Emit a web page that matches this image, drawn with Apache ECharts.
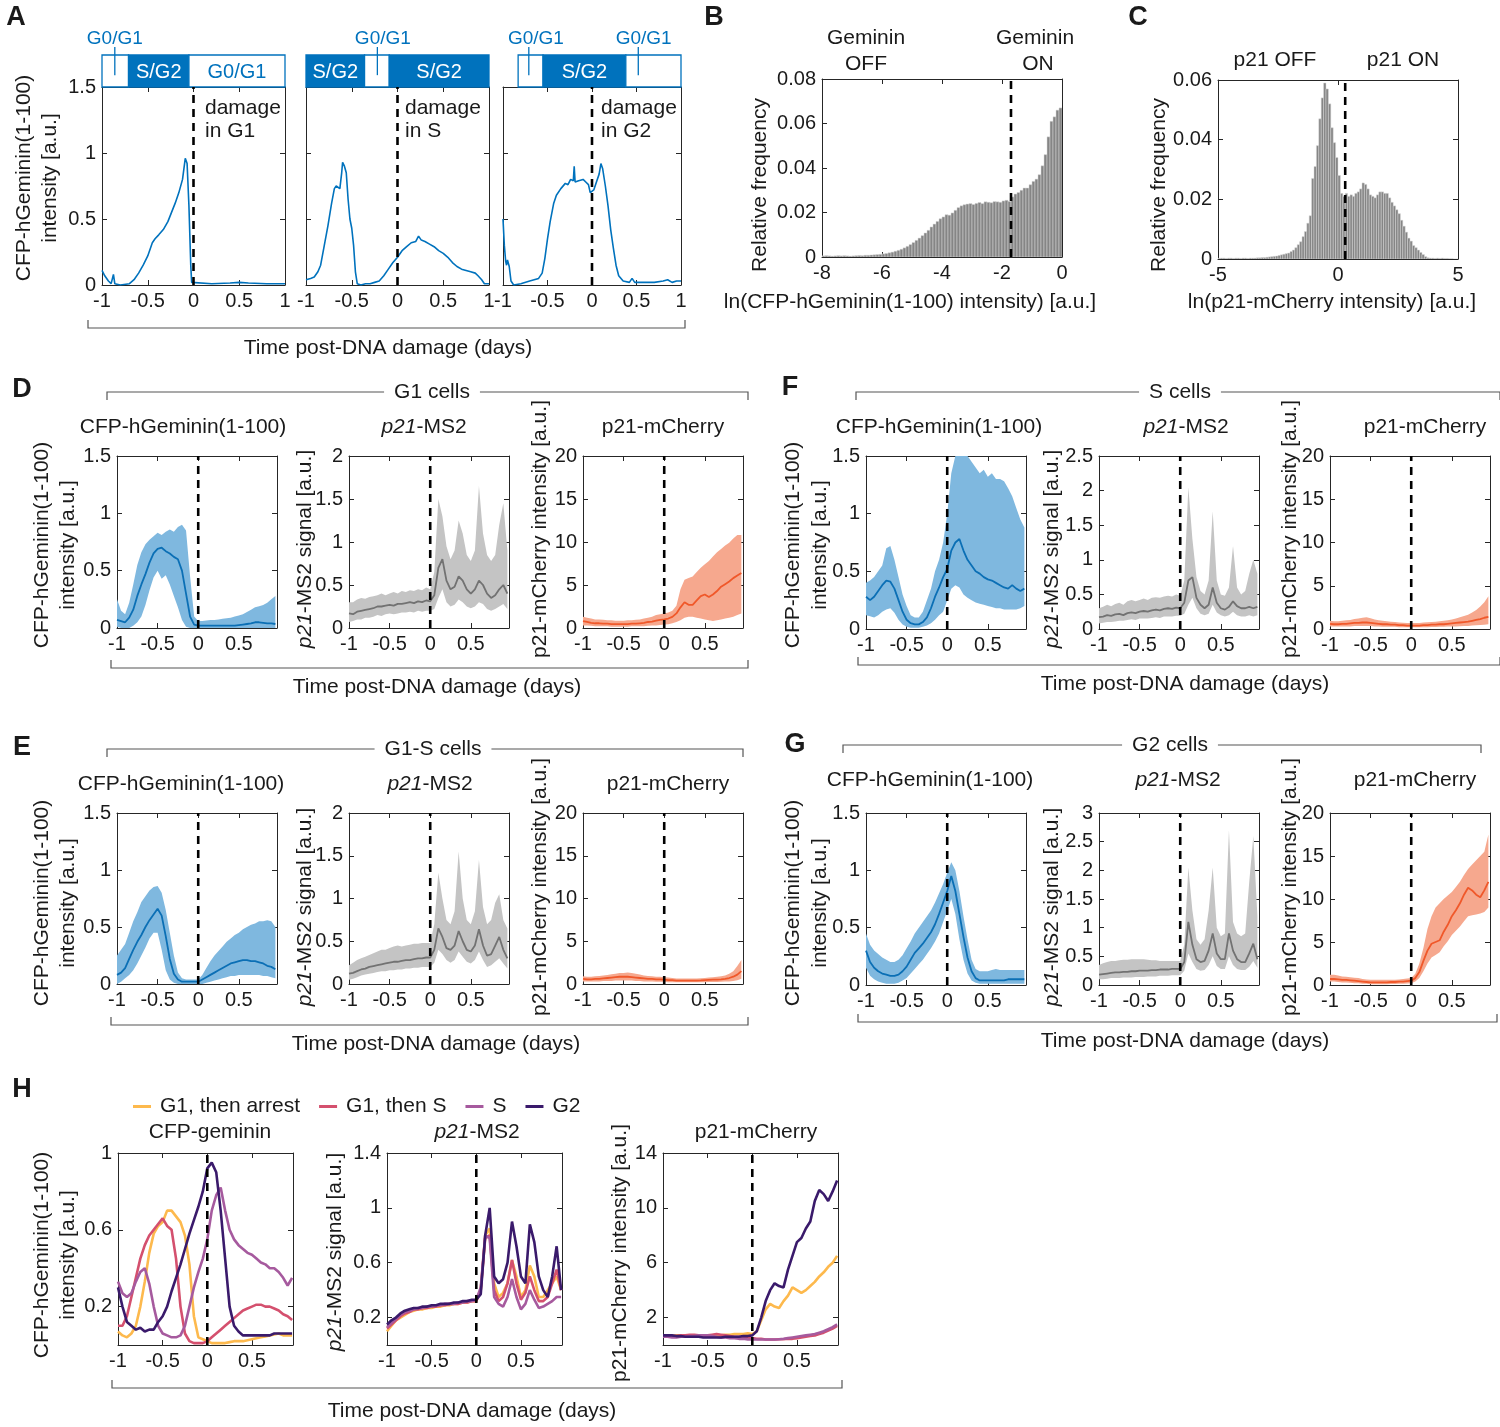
<!DOCTYPE html>
<html><head><meta charset="utf-8">
<script src="https://cdn.jsdelivr.net/npm/echarts@6/dist/echarts.min.js"></script>
<style>html,body{margin:0;padding:0;background:#fff}#c{width:1500px;height:1427px}</style>
</head><body><div id="c"></div>
<script>
// ---------------- DATA ----------------
const T = [-1,-0.95,-0.9,-0.85,-0.8,-0.75,-0.7,-0.65,-0.6,-0.55,-0.5,-0.45,-0.4,-0.35,-0.3,-0.25,-0.2,-0.15,-0.1,-0.05,0,0.05,0.1,0.15,0.2,0.25,0.3,0.35,0.4,0.45,0.5,0.55,0.6,0.65,0.7,0.75,0.8,0.85,0.9,0.95];

// Panel A: single-cell traces [time, intensity]
const A_g1 = [[-1,0.11],[-0.97,0.07],[-0.93,0.03],[-0.9,0.01],[-0.875,0.08],[-0.86,0.01],[-0.8,0.0],[-0.7,0.01],[-0.65,0.04],[-0.6,0.09],[-0.55,0.15],[-0.5,0.22],[-0.45,0.32],[-0.42,0.35],[-0.38,0.38],[-0.33,0.42],[-0.28,0.48],[-0.24,0.55],[-0.2,0.62],[-0.16,0.7],[-0.12,0.8],[-0.09,0.96],[-0.07,0.92],[-0.05,0.6],[-0.03,0.15],[-0.02,0.02],[0,0.01],[0.2,0.01],[0.4,0.015],[0.5,0.02],[0.6,0.015],[0.8,0.01],[1,0.01]];
const A_s = [[-1,0.04],[-0.95,0.05],[-0.91,0.06],[-0.87,0.1],[-0.84,0.15],[-0.8,0.3],[-0.76,0.45],[-0.72,0.62],[-0.69,0.73],[-0.67,0.75],[-0.65,0.76],[-0.63,0.73],[-0.61,0.85],[-0.6,0.93],[-0.58,0.9],[-0.56,0.85],[-0.54,0.65],[-0.52,0.5],[-0.5,0.43],[-0.48,0.3],[-0.46,0.1],[-0.44,0.01],[-0.4,0.0],[-0.35,0.01],[-0.3,0.01],[-0.25,0.02],[-0.2,0.03],[-0.15,0.07],[-0.1,0.12],[-0.05,0.17],[0,0.21],[0.05,0.26],[0.1,0.29],[0.15,0.32],[0.2,0.33],[0.23,0.37],[0.26,0.34],[0.3,0.33],[0.35,0.31],[0.4,0.29],[0.45,0.26],[0.5,0.24],[0.55,0.21],[0.6,0.17],[0.65,0.14],[0.7,0.12],[0.75,0.11],[0.8,0.1],[0.85,0.09],[0.88,0.07],[0.92,0.04],[0.95,0.01],[1,0.01]];
const A_g2 = [[-1,0.5],[-0.985,0.3],[-0.97,0.18],[-0.96,0.15],[-0.95,0.19],[-0.93,0.14],[-0.91,0.03],[-0.88,0.0],[-0.8,0.01],[-0.7,0.03],[-0.6,0.05],[-0.56,0.09],[-0.53,0.2],[-0.5,0.35],[-0.47,0.48],[-0.43,0.62],[-0.4,0.68],[-0.35,0.73],[-0.3,0.77],[-0.27,0.76],[-0.24,0.8],[-0.21,0.79],[-0.2,0.9],[-0.19,0.78],[-0.15,0.79],[-0.1,0.8],[-0.07,0.78],[-0.04,0.76],[-0.02,0.7],[0.0,0.69],[0.02,0.72],[0.05,0.78],[0.08,0.84],[0.1,0.92],[0.12,0.88],[0.15,0.75],[0.18,0.6],[0.21,0.42],[0.24,0.28],[0.27,0.15],[0.3,0.07],[0.35,0.03],[0.42,0.02],[0.45,0.05],[0.48,0.02],[0.6,0.02],[0.7,0.02],[0.8,0.03],[0.85,0.04],[0.9,0.02],[0.95,0.03],[1,0.03]];
// Panel A: cell-cycle phase bars [start, end, isS/G2]
const A_bar1 = [[-1,-0.71,0],[-0.71,-0.05,1],[-0.05,1,0]];
const A_bar1_lbl = ['', 'S/G2', 'G0/G1'];
const A_bar2 = [[-1,-0.36,1],[-0.36,-0.09,0],[-0.09,1,1]];
const A_bar2_lbl = ['S/G2', '', 'S/G2'];
const A_bar3 = [[-0.83,-0.55,0],[-0.55,0.38,1],[0.38,1,0]];
const A_bar3_lbl = ['', 'S/G2', ''];
// G0/G1 callouts [line time, label time]
const A_mark1 = [[-0.86,-0.86]];
const A_mark2 = [[-0.22,-0.16]];
const A_mark3 = [[-0.71,-0.63],[0.52,0.58]];
const A_damageText = [['damage','in G1'],['damage','in S'],['damage','in G2']];

// Panel B histogram
const B_binStart = -8, B_binWidth = 0.1, B_threshold = -1.7;
const B_freq = [0.0005,0.0006,0.0005,0.0004,0.0005,0.0006,0.0005,0.0006,0.0005,0.0004,
 0.0005,0.0006,0.0007,0.0006,0.0008,0.0008,0.0009,0.001,0.0011,0.0012,
 0.0014,0.0016,0.0019,0.0022,0.0026,0.003,0.0035,0.0041,0.0048,0.0056,
 0.0065,0.0075,0.0085,0.0096,0.0108,0.012,0.0135,0.0148,0.016,0.0172,
 0.018,0.019,0.0188,0.0198,0.021,0.0222,0.023,0.0235,0.0238,0.024,
 0.0236,0.0241,0.0245,0.024,0.0248,0.0246,0.0244,0.0249,0.0248,0.0246,
 0.0252,0.0255,0.025,0.027,0.0283,0.029,0.03,0.031,0.031,0.0325,
 0.034,0.035,0.037,0.041,0.046,0.054,0.061,0.063,0.066,0.067];
// Panel C histogram
const C_binStart = -5, C_binWidth = 0.1, C_threshold = 0.3;
const C_freq = [0.0002,0.0003,0.0003,0.0002,0.0003,0.0003,0.0002,0.0003,0.0003,0.0002,
 0.0003,0.0003,0.0002,0.0003,0.0003,0.0003,0.0004,0.0004,0.0005,0.0005,
 0.0006,0.0007,0.0008,0.0009,0.001,0.0012,0.0014,0.0016,0.0018,0.002,
 0.0025,0.003,0.0038,0.0048,0.0058,0.0075,0.0092,0.012,0.0145,0.027,
 0.031,0.038,0.047,0.054,0.059,0.057,0.052,0.044,0.039,0.034,
 0.028,0.022,0.021,0.022,0.021,0.0215,0.021,0.022,0.0225,0.0235,
 0.0255,0.025,0.0235,0.0215,0.021,0.0205,0.0215,0.0225,0.0225,0.022,
 0.022,0.0205,0.019,0.0178,0.0165,0.0152,0.013,0.011,0.009,0.007,
 0.006,0.0045,0.0038,0.003,0.0022,0.0015,0.0008,0.0004,0.0003,0.0003,
 0.0002,0.0003,0.0002,0.0003,0.0002,0.0002,0.0001,0.0001,0,0];

// Panel D: G1 cells (mean, lower, upper)
const D_gem_mean = [0.07,0.06,0.05,0.09,0.16,0.28,0.38,0.47,0.57,0.65,0.69,0.70,0.67,0.65,0.62,0.60,0.50,0.30,0.10,0.03,0.02,0.02,0.02,0.02,0.02,0.02,0.02,0.02,0.02,0.02,0.025,0.03,0.035,0.04,0.05,0.05,0.045,0.04,0.04,0.035];
const D_gem_lo = [0.01,0,0,0,0.02,0.05,0.10,0.20,0.33,0.44,0.50,0.43,0.46,0.38,0.28,0.18,0.07,0.01,0,0,0,0,0,0,0,0,0,0,0,0,0,0,0,0,0,0,0,0,0,0];
const D_gem_hi = [0.25,0.15,0.12,0.22,0.38,0.55,0.66,0.73,0.77,0.80,0.83,0.81,0.84,0.86,0.84,0.88,0.90,0.85,0.45,0.10,0.06,0.06,0.065,0.07,0.07,0.075,0.08,0.085,0.09,0.10,0.11,0.12,0.14,0.16,0.18,0.19,0.20,0.22,0.25,0.28];
const D_ms2_mean = [0.17,0.16,0.19,0.20,0.21,0.22,0.23,0.25,0.25,0.26,0.27,0.26,0.28,0.28,0.29,0.30,0.29,0.31,0.30,0.32,0.31,0.38,0.70,0.80,0.55,0.45,0.48,0.60,0.55,0.45,0.40,0.45,0.55,0.50,0.40,0.35,0.38,0.45,0.50,0.40];
const D_ms2_lo = [0.07,0.08,0.10,0.10,0.12,0.12,0.13,0.15,0.14,0.16,0.17,0.16,0.17,0.18,0.18,0.19,0.18,0.20,0.19,0.20,0.20,0.22,0.35,0.45,0.30,0.25,0.27,0.33,0.30,0.25,0.23,0.25,0.30,0.28,0.22,0.20,0.22,0.25,0.28,0.22];
const D_ms2_hi = [0.30,0.30,0.33,0.35,0.34,0.36,0.37,0.38,0.40,0.38,0.40,0.42,0.40,0.43,0.42,0.44,0.43,0.45,0.44,0.47,0.45,0.65,1.50,1.30,0.95,0.80,0.90,1.25,1.10,0.85,0.78,0.90,1.65,1.10,0.85,0.78,0.85,1.20,1.45,0.90];
const D_mch_mean = [0.8,0.7,0.6,0.55,0.55,0.5,0.5,0.45,0.45,0.45,0.45,0.45,0.5,0.5,0.55,0.6,0.7,0.75,0.85,0.95,1.0,1.1,1.3,1.7,2.4,3.0,2.7,2.7,3.2,3.7,3.9,3.6,3.9,4.3,4.8,5.1,5.4,5.8,6.1,6.4];
const D_mch_lo = [0.3,0.3,0.25,0.2,0.2,0.2,0.2,0.15,0.15,0.15,0.15,0.15,0.2,0.2,0.2,0.2,0.25,0.3,0.3,0.35,0.4,0.45,0.55,0.7,0.9,1.2,1.3,1.3,1.2,1.1,1.0,0.9,0.8,0.9,1.0,1.1,1.2,1.3,1.5,1.7];
const D_mch_hi = [1.3,1.2,1.1,1.0,1.0,0.95,0.9,0.9,0.85,0.85,0.85,0.9,0.9,0.95,1.0,1.1,1.2,1.3,1.5,1.6,1.7,1.8,2.0,2.6,4.5,5.6,5.8,6.0,6.5,7.0,7.4,7.8,8.3,8.8,9.2,9.6,9.9,10.4,10.8,10.8];

// Panel E: G1-S cells
const E_gem_mean = [0.08,0.1,0.14,0.22,0.3,0.37,0.43,0.5,0.56,0.61,0.66,0.6,0.42,0.22,0.09,0.04,0.02,0.02,0.02,0.02,0.02,0.04,0.06,0.08,0.1,0.12,0.14,0.16,0.18,0.19,0.2,0.21,0.21,0.2,0.2,0.19,0.18,0.16,0.15,0.13];
const E_gem_lo = [0,0.02,0.05,0.08,0.12,0.18,0.25,0.32,0.4,0.45,0.45,0.3,0.12,0.04,0.01,0,0,0,0,0,0,0,0.01,0.02,0.03,0.04,0.05,0.06,0.07,0.07,0.08,0.08,0.08,0.08,0.08,0.08,0.07,0.07,0.06,0.05];
const E_gem_hi = [0.25,0.3,0.35,0.45,0.55,0.63,0.72,0.77,0.82,0.85,0.86,0.8,0.65,0.45,0.25,0.1,0.05,0.04,0.04,0.04,0.04,0.08,0.14,0.2,0.25,0.29,0.33,0.37,0.4,0.43,0.45,0.48,0.5,0.52,0.53,0.55,0.55,0.56,0.55,0.5];
const E_ms2_mean = [0.12,0.13,0.15,0.17,0.18,0.2,0.21,0.22,0.23,0.24,0.25,0.26,0.26,0.27,0.28,0.28,0.29,0.3,0.3,0.31,0.31,0.4,0.65,0.55,0.42,0.4,0.45,0.62,0.5,0.4,0.38,0.45,0.64,0.45,0.33,0.35,0.45,0.55,0.4,0.3];
const E_ms2_lo = [0.05,0.06,0.08,0.1,0.11,0.12,0.13,0.14,0.15,0.15,0.16,0.16,0.17,0.17,0.18,0.18,0.19,0.19,0.2,0.2,0.2,0.25,0.4,0.35,0.28,0.25,0.28,0.38,0.32,0.26,0.24,0.28,0.38,0.28,0.2,0.22,0.26,0.3,0.24,0.18];
const E_ms2_hi = [0.22,0.25,0.28,0.3,0.32,0.34,0.36,0.38,0.4,0.4,0.42,0.44,0.45,0.44,0.45,0.46,0.47,0.47,0.48,0.48,0.48,0.7,1.3,1.0,0.75,0.7,0.85,1.55,1.0,0.75,0.7,0.85,1.45,0.9,0.7,0.75,0.95,1.05,0.75,0.65];
const E_mch_mean = [0.6,0.55,0.55,0.6,0.6,0.65,0.7,0.75,0.8,0.85,0.85,0.85,0.8,0.75,0.7,0.65,0.6,0.6,0.55,0.55,0.5,0.45,0.45,0.4,0.4,0.4,0.4,0.4,0.4,0.42,0.45,0.48,0.5,0.52,0.55,0.6,0.7,0.85,1.1,1.5];
const E_mch_lo = [0.3,0.3,0.3,0.3,0.3,0.35,0.35,0.35,0.4,0.4,0.4,0.4,0.4,0.35,0.35,0.3,0.3,0.3,0.25,0.25,0.25,0.2,0.2,0.2,0.2,0.2,0.2,0.2,0.2,0.2,0.2,0.22,0.22,0.24,0.25,0.28,0.3,0.35,0.45,0.6];
const E_mch_hi = [0.9,0.85,0.85,0.9,0.95,1.0,1.05,1.15,1.2,1.3,1.3,1.35,1.3,1.2,1.1,1.0,0.95,0.9,0.85,0.85,0.8,0.75,0.7,0.65,0.65,0.65,0.65,0.65,0.65,0.68,0.7,0.75,0.8,0.85,0.9,1.0,1.2,1.5,2.1,2.8];

// Panel F: S cells
const F_gem_mean = [0.28,0.25,0.28,0.33,0.38,0.42,0.41,0.35,0.25,0.15,0.08,0.05,0.04,0.04,0.06,0.1,0.18,0.28,0.36,0.45,0.52,0.68,0.75,0.78,0.68,0.6,0.55,0.5,0.48,0.45,0.43,0.42,0.4,0.38,0.36,0.35,0.38,0.35,0.33,0.35];
const F_gem_lo = [0.12,0.11,0.1,0.12,0.15,0.17,0.18,0.14,0.08,0.04,0.02,0.01,0.01,0.01,0.02,0.03,0.05,0.08,0.12,0.15,0.25,0.35,0.38,0.36,0.3,0.27,0.25,0.23,0.22,0.21,0.2,0.19,0.18,0.18,0.17,0.17,0.17,0.17,0.18,0.2];
const F_gem_hi = [0.4,0.42,0.45,0.5,0.55,0.7,0.72,0.6,0.45,0.3,0.2,0.12,0.1,0.1,0.15,0.25,0.35,0.5,0.6,0.75,1.0,1.35,1.6,1.6,1.6,1.5,1.45,1.4,1.35,1.38,1.32,1.35,1.3,1.3,1.28,1.22,1.15,1.05,0.95,0.88];
const F_ms2_mean = [0.17,0.18,0.2,0.19,0.21,0.22,0.2,0.23,0.24,0.23,0.25,0.26,0.25,0.27,0.28,0.27,0.29,0.3,0.29,0.31,0.3,0.38,0.7,0.75,0.45,0.35,0.3,0.35,0.6,0.38,0.3,0.28,0.32,0.4,0.33,0.3,0.3,0.32,0.3,0.32];
const F_ms2_lo = [0.08,0.09,0.1,0.1,0.11,0.12,0.12,0.13,0.14,0.13,0.15,0.15,0.15,0.16,0.17,0.16,0.18,0.18,0.18,0.19,0.19,0.22,0.35,0.45,0.3,0.22,0.2,0.22,0.35,0.24,0.2,0.18,0.2,0.25,0.2,0.18,0.18,0.2,0.18,0.2];
const F_ms2_hi = [0.3,0.32,0.35,0.33,0.36,0.38,0.35,0.4,0.42,0.4,0.42,0.44,0.42,0.45,0.46,0.45,0.47,0.48,0.47,0.5,0.48,0.7,2.05,1.3,0.75,0.55,0.5,0.7,1.7,0.7,0.5,0.48,0.6,1.2,0.6,0.5,0.55,0.8,1.0,0.8];
const F_mch_mean = [0.6,0.55,0.55,0.6,0.6,0.65,0.7,0.7,0.75,0.75,0.7,0.65,0.6,0.55,0.55,0.5,0.5,0.45,0.45,0.4,0.4,0.4,0.4,0.45,0.45,0.5,0.5,0.55,0.55,0.6,0.65,0.7,0.75,0.8,0.85,0.95,1.05,1.15,1.3,1.4];
const F_mch_lo = [0.3,0.3,0.3,0.3,0.3,0.3,0.35,0.35,0.35,0.35,0.35,0.3,0.3,0.25,0.25,0.25,0.25,0.2,0.2,0.2,0.2,0.2,0.2,0.2,0.2,0.22,0.22,0.25,0.25,0.28,0.3,0.3,0.32,0.35,0.35,0.4,0.42,0.45,0.5,0.55];
const F_mch_hi = [0.95,0.9,0.9,0.95,1.0,1.05,1.15,1.2,1.3,1.35,1.25,1.1,1.0,0.95,0.9,0.85,0.8,0.75,0.72,0.7,0.7,0.7,0.7,0.75,0.78,0.82,0.85,0.9,0.95,1.0,1.1,1.2,1.35,1.5,1.65,1.9,2.2,2.6,3.1,3.8];

// Panel G: G2 cells
const G_gem_mean = [0.3,0.2,0.15,0.12,0.1,0.09,0.08,0.08,0.09,0.12,0.16,0.22,0.28,0.32,0.36,0.41,0.46,0.53,0.62,0.72,0.82,0.95,0.82,0.62,0.42,0.24,0.12,0.06,0.04,0.04,0.04,0.04,0.04,0.04,0.04,0.05,0.05,0.05,0.05,0.05];
const G_gem_lo = [0.15,0.08,0.05,0.03,0.02,0.01,0.01,0.01,0.02,0.04,0.06,0.1,0.14,0.18,0.22,0.27,0.32,0.38,0.45,0.55,0.65,0.75,0.62,0.4,0.22,0.1,0.04,0.02,0.01,0.01,0.01,0.01,0.01,0.01,0.01,0.01,0.01,0.01,0.01,0.01];
const G_gem_hi = [0.45,0.35,0.3,0.27,0.24,0.22,0.2,0.2,0.22,0.26,0.32,0.38,0.45,0.5,0.55,0.6,0.65,0.72,0.8,0.88,0.98,1.07,1.0,0.82,0.6,0.4,0.22,0.14,0.12,0.12,0.12,0.13,0.14,0.13,0.13,0.13,0.13,0.13,0.13,0.13];
const G_ms2_mean = [0.18,0.19,0.2,0.21,0.22,0.22,0.23,0.23,0.24,0.24,0.25,0.25,0.25,0.26,0.26,0.27,0.27,0.27,0.28,0.28,0.28,0.4,1.1,0.7,0.45,0.4,0.42,0.6,0.9,0.55,0.45,0.45,0.9,0.6,0.45,0.4,0.4,0.55,0.72,0.45];
const G_ms2_lo = [0.1,0.1,0.11,0.12,0.12,0.12,0.13,0.13,0.13,0.14,0.14,0.14,0.15,0.15,0.15,0.16,0.16,0.16,0.17,0.17,0.17,0.25,0.55,0.4,0.28,0.25,0.26,0.35,0.5,0.33,0.28,0.28,0.5,0.35,0.28,0.26,0.26,0.32,0.42,0.3];
const G_ms2_hi = [0.35,0.38,0.4,0.42,0.42,0.43,0.44,0.44,0.45,0.45,0.45,0.45,0.44,0.43,0.43,0.42,0.42,0.42,0.42,0.42,0.42,0.7,2.05,1.3,0.8,0.7,0.8,1.3,2.05,1.0,0.85,0.9,2.7,1.1,0.9,0.85,0.9,1.8,2.6,1.2];
const G_mch_mean = [0.7,0.7,0.65,0.6,0.6,0.55,0.5,0.45,0.4,0.35,0.3,0.3,0.3,0.3,0.3,0.35,0.35,0.4,0.4,0.45,0.5,0.8,1.5,2.8,4.0,4.8,5.0,5.2,6.2,7.0,8.0,8.7,9.5,10.5,11.3,11.0,10.5,10.2,11.0,12.0];
const G_mch_lo = [0.4,0.4,0.35,0.3,0.3,0.25,0.2,0.2,0.15,0.15,0.1,0.1,0.1,0.1,0.1,0.12,0.12,0.15,0.15,0.18,0.2,0.4,0.8,1.6,2.5,3.2,3.5,3.8,4.5,5.1,5.8,6.3,6.8,7.4,8.0,8.1,8.2,8.3,8.5,9.0];
const G_mch_hi = [1.2,1.2,1.1,1.0,0.95,0.9,0.85,0.8,0.7,0.65,0.6,0.6,0.6,0.6,0.6,0.62,0.62,0.65,0.7,0.75,0.8,1.3,2.5,4.3,6.5,8.0,9.0,9.5,10.0,10.4,10.8,11.4,12.0,12.8,13.5,14.0,14.5,15.0,15.5,17.5];

// Panel H: averages per group
const H_names = ['G1, then arrest', 'G1, then S', 'S', 'G2'];
const H_gem_arrest = [0.07,0.05,0.04,0.06,0.1,0.2,0.33,0.48,0.58,0.62,0.64,0.7,0.7,0.67,0.64,0.57,0.42,0.15,0.04,0.03,0.02,0.01,0.01,0.01,0.01,0.015,0.02,0.02,0.02,0.025,0.03,0.035,0.04,0.045,0.05,0.055,0.06,0.05,0.05,0.05];
const H_gem_thenS = [0.1,0.1,0.15,0.25,0.35,0.45,0.52,0.57,0.6,0.63,0.66,0.62,0.6,0.45,0.2,0.06,0.02,0.01,0.01,0.01,0.02,0.04,0.06,0.08,0.1,0.12,0.14,0.16,0.18,0.19,0.2,0.21,0.21,0.2,0.2,0.19,0.18,0.16,0.15,0.13];
const H_gem_S = [0.33,0.27,0.25,0.27,0.33,0.38,0.4,0.32,0.2,0.1,0.06,0.05,0.04,0.04,0.05,0.1,0.2,0.3,0.38,0.45,0.55,0.7,0.78,0.82,0.7,0.6,0.55,0.52,0.5,0.48,0.47,0.45,0.43,0.42,0.4,0.4,0.38,0.35,0.31,0.35];
const H_gem_G2 = [0.3,0.2,0.12,0.1,0.08,0.09,0.07,0.08,0.08,0.12,0.15,0.2,0.28,0.35,0.42,0.5,0.58,0.65,0.72,0.8,0.92,0.95,0.9,0.7,0.45,0.2,0.1,0.07,0.05,0.05,0.05,0.05,0.05,0.05,0.05,0.06,0.06,0.06,0.06,0.06];
const H_ms2_arrest = [0.1,0.14,0.18,0.2,0.22,0.24,0.25,0.26,0.26,0.27,0.27,0.28,0.28,0.29,0.29,0.3,0.3,0.31,0.31,0.32,0.32,0.4,0.8,0.85,0.45,0.35,0.38,0.45,0.62,0.5,0.35,0.4,0.58,0.5,0.35,0.35,0.4,0.45,0.5,0.4];
const H_ms2_thenS = [0.12,0.15,0.18,0.21,0.23,0.24,0.26,0.26,0.27,0.27,0.28,0.28,0.29,0.29,0.3,0.3,0.3,0.31,0.31,0.32,0.32,0.4,0.78,0.8,0.4,0.32,0.35,0.45,0.62,0.45,0.33,0.38,0.5,0.4,0.32,0.32,0.35,0.45,0.55,0.4];
const H_ms2_S = [0.13,0.16,0.19,0.22,0.24,0.25,0.26,0.27,0.27,0.28,0.28,0.29,0.29,0.3,0.3,0.3,0.31,0.31,0.32,0.32,0.33,0.42,0.8,0.78,0.35,0.3,0.28,0.35,0.48,0.35,0.26,0.3,0.4,0.33,0.27,0.28,0.3,0.32,0.35,0.35];
const H_ms2_G2 = [0.15,0.18,0.2,0.23,0.25,0.26,0.27,0.27,0.28,0.28,0.29,0.29,0.3,0.3,0.3,0.31,0.31,0.32,0.32,0.33,0.33,0.37,0.8,1.0,0.5,0.45,0.48,0.6,0.9,0.72,0.5,0.45,0.88,0.75,0.5,0.4,0.35,0.5,0.72,0.4];
const H_mch_arrest = [0.7,0.7,0.65,0.7,0.7,0.65,0.7,0.7,0.7,0.65,0.7,0.7,0.7,0.7,0.75,0.75,0.8,0.8,0.8,0.85,0.8,1.0,1.8,2.6,3.0,2.8,2.7,3.2,3.6,4.2,4.0,3.8,4.0,4.3,4.6,5.0,5.3,5.7,6.0,6.5];
const H_mch_thenS = [0.7,0.7,0.65,0.65,0.7,0.7,0.75,0.75,0.7,0.7,0.7,0.75,0.8,0.75,0.7,0.65,0.6,0.6,0.55,0.55,0.5,0.45,0.45,0.4,0.4,0.4,0.42,0.42,0.45,0.45,0.5,0.55,0.6,0.65,0.7,0.8,0.9,1.05,1.2,1.4];
const H_mch_S = [0.6,0.6,0.55,0.55,0.6,0.6,0.65,0.65,0.7,0.7,0.7,0.65,0.6,0.55,0.55,0.5,0.5,0.45,0.45,0.4,0.4,0.4,0.4,0.4,0.4,0.4,0.42,0.45,0.5,0.55,0.6,0.65,0.7,0.75,0.8,0.9,1.0,1.15,1.3,1.5];
const H_mch_G2 = [0.7,0.7,0.7,0.65,0.65,0.6,0.6,0.6,0.6,0.55,0.55,0.55,0.55,0.55,0.6,0.6,0.6,0.6,0.65,0.65,0.7,1.0,2.0,3.2,4.0,4.5,4.3,4.2,5.5,6.5,7.5,7.8,8.5,9.0,10.5,11.3,11.0,10.5,11.2,12.0];

// Tick values
const TICK_A_X = [-1,-0.5,0,0.5,1], TICK_A_Y = [0,0.5,1,1.5];
const TICK_B_X = [-8,-6,-4,-2,0], TICK_B_Y = [0,0.02,0.04,0.06,0.08];
const TICK_C_X = [-5,0,5], TICK_C_Y = [0,0.02,0.04,0.06];
const TICK_T = [-1,-0.5,0,0.5];
const TICK_GEM = [0,0.5,1,1.5], TICK_MS2_2 = [0,0.5,1,1.5,2], TICK_MS2_25 = [0,0.5,1,1.5,2,2.5], TICK_MS2_3 = [0,0.5,1,1.5,2,2.5,3], TICK_MCH = [0,5,10,15,20];
const TICK_H1 = [0.2,0.6,1], TICK_H2 = [0.2,0.6,1,1.4], TICK_H3 = [2,6,10,14];

// ---------------- STYLE / BUILD ----------------
const FONT = '"Liberation Sans", Arial, Helvetica, sans-serif';
const AX = '#262626', TXT = '#1a1a1a', BLUE = '#0072BD';
const COL = {
  gem: {line:'#0B6FB5', band:'#7FB8DF'},
  ms2: {line:'#727272', band:'#c4c4c4'},
  mch: {line:'#F0582A', band:'#F6A88E'}
};
const H_COL = ['#FDB94D', '#D4506E', '#A65A9E', '#3A1A6B'];

const opt = {animation:false, backgroundColor:'#fff', grid:[], xAxis:[], yAxis:[], series:[], graphic:{elements:[]}};

function addGrid(box, xr, yr, xt, yt, o) {
  o = o || {};
  const gi = opt.grid.length;
  opt.grid.push({left:box[0], top:box[1], width:box[2], height:box[3]});
  const mk = (pos, r, ticks, labels) => ({
    type:'value', gridIndex:gi, position:pos, min:r[0], max:r[1], show:!o.hidden, silent:true,
    axisLine:{show:true, onZero:false, lineStyle:{color:AX, width:1}},
    axisTick:{show:true, inside:true, length:5, customValues:ticks, lineStyle:{color:AX, width:1}},
    axisLabel:{show:labels, customValues:ticks, fontSize:20, fontFamily:FONT, color:TXT, margin:6},
    splitLine:{show:false}
  });
  opt.xAxis.push(mk('bottom', xr, xt, o.xLabels !== false), mk('top', xr, xt, false));
  opt.yAxis.push(mk('left', yr, yt, o.yLabels !== false), mk('right', yr, yt, false));
  return {x:2*gi, y:2*gi, xr, yr};
}
function clampV(v, r) { return Math.min(r[1], Math.max(r[0], v)); }
function band(ax, t, lo, hi, color) {
  opt.series.push({type:'custom', xAxisIndex:ax.x, yAxisIndex:ax.y, silent:true, clip:true, z:1,
    data: t.map((v,k)=>[v, lo[k], hi[k]]), encode:{x:0, y:[1,2]},
    renderItem:(p, api) => {
      if (p.dataIndex !== 0) return;
      const pts = [];
      for (let k=0;k<t.length;k++) pts.push(api.coord([t[k], clampV(hi[k], ax.yr)]));
      for (let k=t.length-1;k>=0;k--) pts.push(api.coord([t[k], clampV(lo[k], ax.yr)]));
      return {type:'polygon', shape:{points:pts}, style:{fill:color}};
    }});
}
function line(ax, pts, color, width, name) {
  const s = {type:'line', xAxisIndex:ax.x, yAxisIndex:ax.y, data:pts, showSymbol:false, symbol:'none',
    lineStyle:{color, width}, itemStyle:{color}, silent:true, z:3, clip:true};
  if (name) s.name = name;
  opt.series.push(s);
}
function pairs(t, v) { return t.map((x,k)=>[x, v[k]]); }
function vdash(ax, x0) {
  opt.series.push({type:'line', xAxisIndex:ax.x, yAxisIndex:ax.y, data:[[x0, ax.yr[0]],[x0, ax.yr[1]]],
    symbol:'none', showSymbol:false, lineStyle:{color:'#000', width:2.6, type:[8,6]}, silent:true, z:6});
}
function hist(ax, start, w, freq) {
  opt.series.push({type:'custom', xAxisIndex:ax.x, yAxisIndex:ax.y, silent:true, clip:true, z:2,
    data: freq.map((f,k)=>[start + (k+0.5)*w, f]), encode:{x:0, y:1},
    renderItem:(p, api) => {
      const x = api.value(0), f = api.value(1);
      const a = api.coord([x - w/2, 0]), b = api.coord([x + w/2, f]);
      return {type:'rect', shape:{x:a[0], y:b[1], width:b[0]-a[0], height:a[1]-b[1]},
        style:{fill:'#858585', stroke:'#d9d9d9', lineWidth:0.5}};
    }});
}
function phaseBar(ax, segs, lbls, marks) {
  opt.series.push({type:'custom', xAxisIndex:ax.x, yAxisIndex:ax.y, silent:true, clip:false, z:4,
    data: segs.map(s=>[s[0], s[1]]), encode:{x:[0,1]},
    renderItem:(p, api) => {
      const s = segs[p.dataIndex];
      const a = api.coord([s[0],0]), b = api.coord([s[1],1]);
      const filled = s[2] === 1;
      return {type:'group', children:[
        {type:'rect', shape:{x:a[0], y:b[1], width:b[0]-a[0], height:a[1]-b[1]}, style:{fill: filled?BLUE:'#fff', stroke:BLUE, lineWidth:1.3}},
        {type:'text', style:{text:lbls[p.dataIndex], x:(a[0]+b[0])/2, y:(a[1]+b[1])/2+1, fill: filled?'#fff':BLUE, font:'20px '+FONT, align:'center', verticalAlign:'middle', textAlign:'center', textVerticalAlign:'middle'}}
      ]};
    }});
  opt.series.push({type:'custom', xAxisIndex:ax.x, yAxisIndex:ax.y, silent:true, clip:false, z:5,
    data: marks.map(m=>[m[0], 0]), encode:{x:0, y:1},
    renderItem:(p, api) => {
      const m = marks[p.dataIndex];
      const lo = api.coord([m[0], 0.37]), hi = api.coord([m[0], 1.25]), tp = api.coord([m[1], 1.5]);
      return {type:'group', children:[
        {type:'line', shape:{x1:lo[0], y1:lo[1], x2:hi[0], y2:hi[1]}, style:{stroke:BLUE, lineWidth:1.3}},
        {type:'text', style:{text:'G0/G1', x:tp[0], y:tp[1], fill:BLUE, font:'19px '+FONT, align:'center', verticalAlign:'middle', textAlign:'center', textVerticalAlign:'middle'}}
      ]};
    }});
}
// --- text / bracket graphics ---
const G = opt.graphic.elements;
function txt(x, y, text, o) {
  o = o || {};
  const size = o.size || 21;
  const el = {type:'text', x, y, rotation: o.rot ? Math.PI/2 : 0, silent:true, z:100,
    style:{text, font:(o.bold?'bold ':'') + size + 'px ' + FONT, fill:o.color||TXT,
      align:o.align||'center', verticalAlign:'middle', textAlign:o.align||'center', textVerticalAlign:'middle'}};
  if (o.rich) el.style.rich = {i:{font:'italic '+size+'px '+FONT, fill:o.color||TXT}};
  if (o.bg) { el.style.backgroundColor = '#fff'; el.style.padding = [0, 10]; }
  G.push(el);
}
function bracket(x1, x2, y, dir) {
  G.push({type:'polyline', silent:true, z:50, shape:{points:[[x1, y+8*dir],[x1, y],[x2, y],[x2, y+8*dir]]},
    style:{stroke:'#555', lineWidth:1.2, fill:null}});
}

// ---------- Panel A ----------
const aBoxes = [[102,87,183,198],[306,87,183,198],[503,87,178,198]];
const aLines = [A_g1, A_s, A_g2];
const aBars = [[A_bar1, A_bar1_lbl, A_mark1],[A_bar2, A_bar2_lbl, A_mark2],[A_bar3, A_bar3_lbl, A_mark3]];
aBoxes.forEach((b, i) => {
  const ax = addGrid(b, [-1,1], [0,1.5], TICK_A_X, TICK_A_Y, {yLabels: i===0});
  line(ax, aLines[i], BLUE, 1.6);
  vdash(ax, 0);
  const bx = addGrid([b[0], 55, b[2], 32], [-1,1], [0,1], [], [], {hidden:true});
  phaseBar(bx, aBars[i][0], aBars[i][1], aBars[i][2]);
});
[205, 405, 601].forEach((x, i) => { txt(x, 108, A_damageText[i][0], {align:'left'}); txt(x, 131, A_damageText[i][1], {align:'left'}); });
txt(24, 178, 'CFP-hGeminin(1-100)', {rot:true}); txt(50, 178, 'intensity [a.u.]', {rot:true});
bracket(88, 685, 328, -1); txt(388, 348, 'Time post-DNA damage (days)');

// ---------- Panel B ----------
const bAx = addGrid([822,79,240,178], [-8,0], [0,0.08], TICK_B_X, TICK_B_Y);
hist(bAx, B_binStart, B_binWidth, B_freq); vdash(bAx, B_threshold);
txt(866, 38, 'Geminin'); txt(866, 64, 'OFF'); txt(1035, 38, 'Geminin'); txt(1038, 64, 'ON');
txt(760, 185, 'Relative frequency', {rot:true});
txt(910, 302, 'ln(CFP-hGeminin(1-100) intensity) [a.u.]');
// ---------- Panel C ----------
const cAx = addGrid([1218,80,240,179], [-5,5], [0,0.06], TICK_C_X, TICK_C_Y);
hist(cAx, C_binStart, C_binWidth, C_freq); vdash(cAx, C_threshold);
txt(1275, 60, 'p21 OFF'); txt(1403, 60, 'p21 ON');
txt(1159, 185, 'Relative frequency', {rot:true});
txt(1332, 302, 'ln(p21-mCherry intensity) [a.u.]');

// ---------- Panels D-G ----------
function triple(lefts, top, h, data, ms2Ticks, ms2Max) {
  const ranges = [[0,1.5],[0,ms2Max],[0,20]];
  const ticks = [TICK_GEM, ms2Ticks, TICK_MCH];
  const cols = [COL.gem, COL.ms2, COL.mch];
  lefts.forEach((l, i) => {
    const ax = addGrid([l, top, 160, h], [-1,0.97], ranges[i], TICK_T, ticks[i]);
    band(ax, T, data[i][1], data[i][2], cols[i].band);
    line(ax, pairs(T, data[i][0]), cols[i].line, 1.8);
    vdash(ax, 0);
  });
}
const DE_L = [117,349,583], FG_L = [866,1099,1330];
triple(DE_L, 456, 172, [[D_gem_mean,D_gem_lo,D_gem_hi],[D_ms2_mean,D_ms2_lo,D_ms2_hi],[D_mch_mean,D_mch_lo,D_mch_hi]], TICK_MS2_2, 2);
triple(DE_L, 813, 171, [[E_gem_mean,E_gem_lo,E_gem_hi],[E_ms2_mean,E_ms2_lo,E_ms2_hi],[E_mch_mean,E_mch_lo,E_mch_hi]], TICK_MS2_2, 2);
triple(FG_L, 456, 173, [[F_gem_mean,F_gem_lo,F_gem_hi],[F_ms2_mean,F_ms2_lo,F_ms2_hi],[F_mch_mean,F_mch_lo,F_mch_hi]], TICK_MS2_25, 2.5);
triple(FG_L, 813, 172, [[G_gem_mean,G_gem_lo,G_gem_hi],[G_ms2_mean,G_ms2_lo,G_ms2_hi],[G_mch_mean,G_mch_lo,G_mch_hi]], TICK_MS2_3, 3);

function tripleText(o) {
  bracket(o.hx[0], o.hx[1], o.hy, 1); txt(o.hc, o.hy, o.title, {bg:true});
  txt(o.tc[0], o.ty, 'CFP-hGeminin(1-100)'); txt(o.tc[1], o.ty, '{i|p21}-MS2', {rich:true}); txt(o.tc[2], o.ty, 'p21-mCherry');
  txt(o.yx[0], o.yc, 'CFP-hGeminin(1-100)', {rot:true}); txt(o.yx[1], o.yc, 'intensity [a.u.]', {rot:true});
  txt(o.yx[2], o.yc+4, '{i|p21}-MS2 signal [a.u.]', {rot:true, rich:true});
  txt(o.yx[3], o.yc-16, 'p21-mCherry intensity [a.u.]', {rot:true});
  bracket(o.bx[0], o.bx[1], o.by, -1); txt(o.bc, o.by+19, 'Time post-DNA damage (days)');
}
tripleText({hx:[107,748], hy:392, hc:432, title:'G1 cells', tc:[183,424,663], ty:427, yx:[42,68,305,540], yc:545, bx:[111,748], by:668, bc:437});
tripleText({hx:[107,743], hy:749, hc:433, title:'G1-S cells', tc:[181,430,668], ty:784, yx:[42,68,305,540], yc:903, bx:[111,748], by:1025, bc:436});
tripleText({hx:[856,1500], hy:392, hc:1180, title:'S cells', tc:[939,1186,1425], ty:427, yx:[793,820,1052,1290], yc:545, bx:[858,1500], by:665, bc:1185});
tripleText({hx:[843,1481], hy:745, hc:1170, title:'G2 cells', tc:[930,1178,1415], ty:780, yx:[793,820,1052,1290], yc:903, bx:[858,1497], by:1022, bc:1185});

// ---------- Panel H ----------
const hData = [[H_gem_arrest,H_gem_thenS,H_gem_S,H_gem_G2],[H_ms2_arrest,H_ms2_thenS,H_ms2_S,H_ms2_G2],[H_mch_arrest,H_mch_thenS,H_mch_S,H_mch_G2]];
const hRanges = [[0,1],[0,1.4],[0,14]], hTicks = [TICK_H1, TICK_H2, TICK_H3];
[118,387,663].forEach((l, i) => {
  const ax = addGrid([l,1153,175,192], [-1,0.96], hRanges[i], TICK_T, hTicks[i]);
  hData[i].forEach((arr, j) => line(ax, pairs(T, arr), H_COL[j], 2.6, H_names[j]));
  vdash(ax, 0);
});
opt.legend = {left:128, top:1091, icon:'rect', itemWidth:18, itemHeight:3, itemGap:19, selectedMode:false,
  data: H_names.map((n,j)=>({name:n, itemStyle:{color:H_COL[j]}})),
  textStyle:{fontSize:21, fontFamily:FONT, color:TXT, padding:[0,0,0,4]}};
txt(210, 1132, 'CFP-geminin'); txt(477, 1132, '{i|p21}-MS2', {rich:true}); txt(756, 1132, 'p21-mCherry');
txt(42, 1255, 'CFP-hGeminin(1-100)', {rot:true}); txt(68, 1255, 'intensity [a.u.]', {rot:true});
txt(335, 1252, '{i|p21}-MS2 signal [a.u.]', {rot:true, rich:true});
txt(620, 1253, 'p21-mCherry intensity [a.u.]', {rot:true});
bracket(112, 842, 1388, -1); txt(472, 1411, 'Time post-DNA damage (days)');

// Panel letters
[['A',16,18],['B',714,18],['C',1138,18],['D',22,390],['F',790,388],['E',22,748],['G',795,745],['H',22,1090]]
  .forEach(l => txt(l[1], l[2], l[0], {bold:true, size:27}));

const chart = echarts.init(document.getElementById('c'), null, {renderer:'canvas'});
chart.setOption(opt);
</script></body></html>
